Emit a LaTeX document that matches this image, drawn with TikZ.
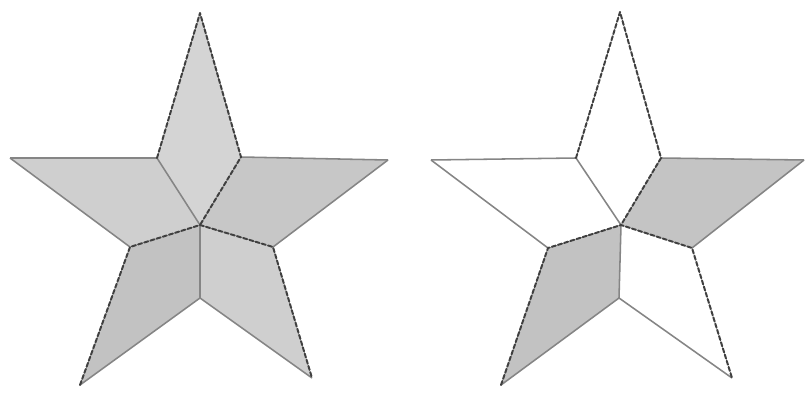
\documentclass[tikz,border=0pt]{standalone}
\usepackage{tikz}
\usetikzlibrary{calc}

\tikzset{
  fold/.style={line width=1.4pt, black!75, dash pattern=on 3pt off 1.6pt, line cap=round},
  crease/.style={line width=1.1pt, black!48},
}

\begin{document}
\begin{tikzpicture}[x=0.025cm, y=-0.025cm, line join=round]
  \useasboundingbox (0,0) rectangle (808,393);

  % === Étoile pleine (gauche) ===
  \begin{scope}[shift={(0,0)}]
    \coordinate (T)  at (200,13);
    \coordinate (L)  at (10,158);
    \coordinate (R)  at (388,160);
    \coordinate (BL) at (80,385);
    \coordinate (BR) at (312,378);
    \coordinate (UL) at (157,158);
    \coordinate (UR) at (241,157);
    \coordinate (IL) at (130,247);
    \coordinate (IR) at (273,247);
    \coordinate (IB) at (200,298);
    \coordinate (C)  at (200,225);

    % kites
    \fill[black!17] (T) -- (UR) -- (C) -- (UL) -- cycle;
    \fill[black!19] (L) -- (UL) -- (C) -- (IL) -- cycle;
    \fill[black!22] (R) -- (IR) -- (C) -- (UR) -- cycle;
    \fill[black!24] (BL) -- (IL) -- (C) -- (IB) -- cycle;
    \fill[black!19] (BR) -- (IB) -- (C) -- (IR) -- cycle;

    % traits pleins
    \draw[crease] (L) -- (UL) -- (C) -- (IB);
    \draw[crease] (L) -- (IL);
    \draw[crease] (R) -- (UR);
    \draw[crease] (R) -- (IR);
    \draw[crease] (BL) -- (IB) -- (BR);

    % pliures
    \draw[fold] (UL) -- (T) -- (UR) -- (C);
    \draw[fold] (BL) -- (IL) -- (C) -- (IR) -- (BR);
  \end{scope}

  % === Étoile alternée (droite) ===
  \begin{scope}[shift={(420,0)}]
    \coordinate (T)  at (200,12);
    \coordinate (L)  at (11,160);
    \coordinate (R)  at (384,160);
    \coordinate (BL) at (81,385);
    \coordinate (BR) at (312,378);
    \coordinate (UL) at (156,158);
    \coordinate (UR) at (241,158);
    \coordinate (IL) at (128,248);
    \coordinate (IR) at (272,248);
    \coordinate (IB) at (199,298);
    \coordinate (C)  at (201,225);

    % kites
    \fill[white] (T) -- (UR) -- (C) -- (UL) -- cycle;
    \fill[white] (L) -- (UL) -- (C) -- (IL) -- cycle;
    \fill[black!23] (R) -- (IR) -- (C) -- (UR) -- cycle;
    \fill[black!24] (BL) -- (IL) -- (C) -- (IB) -- cycle;
    \fill[white] (BR) -- (IB) -- (C) -- (IR) -- cycle;

    % traits pleins
    \draw[crease] (L) -- (UL) -- (C) -- (IB);
    \draw[crease] (L) -- (IL);
    \draw[crease] (R) -- (UR);
    \draw[crease] (R) -- (IR);
    \draw[crease] (BL) -- (IB) -- (BR);

    % pliures
    \draw[fold] (UL) -- (T) -- (UR) -- (C);
    \draw[fold] (BL) -- (IL) -- (C) -- (IR) -- (BR);
  \end{scope}
\end{tikzpicture}
\end{document}
